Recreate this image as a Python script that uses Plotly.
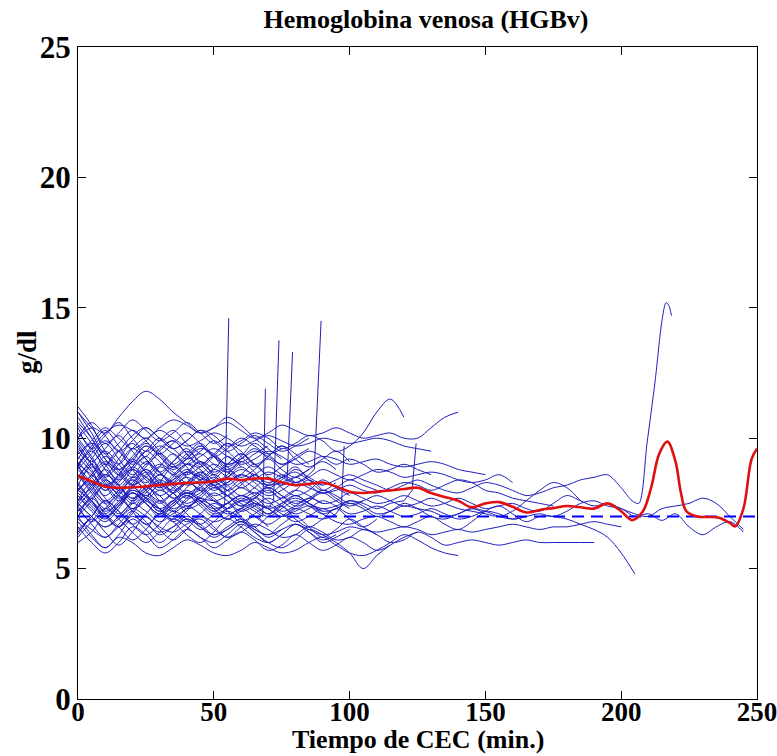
import plotly.graph_objects as go

STEP = 5  # minutes between samples

# ---- individual patient curves (g/dl, sampled every 5 min from t=0) ----
p01 = [9.5,8.8,8.0,8.6,9.2,8.7,8.1,8.5,9.0,8.8,8.3,8.6,9.1,8.7,8.2,8.5,8.9,8.4,8.0,8.3]
p02 = [10.2,9.6,9.0,9.5,10.1,10.4,10.0,9.6,9.9,10.3,10.1,9.7,9.9,10.2,10.0,9.6,9.8,10.1,9.9,9.5,9.7,10.2,11.0,11.5,10.8]
p03 = [9.0,9.6,10.2,10.5,10.3,10.0,10.4,10.7,10.5,10.2,10.4,10.6,10.3,10.0,10.2,10.5,10.3,10.1,10.2,10.4,10.2,10.0,10.1,10.2,10.0,10.0,10.4,10.8,11.0]
p04 = [10.0,10.4,10.2,10.8,11.4,11.8,11.5,11.0,10.6,10.2,10.4,10.8,10.5,10.0,9.6,9.2]
p05 = [11.2,10.5,9.5,9.0,9.6,10.0,9.5,9.0,9.4,9.8,9.3,8.8,9.2,9.6,9.2]
p06 = [6.0,6.4,7.0,6.6,6.1,6.5,7.1,6.8,6.3,6.0,6.4,6.9,6.6,6.2,6.0,6.3,6.7,6.4,6.0,6.2,6.5]
p07 = [7.0,6.3,5.8,6.2,6.0,5.6,5.5,5.8,6.1,5.9,5.6,5.5,5.7,6.0,5.8,5.6,5.7,6.0,6.2,5.9,5.6,5.5,5.7,6.0,6.3,6.1,5.8,5.6,5.5]
p08 = [7.5,7.0,6.6,6.9,7.3,7.0,6.6,6.4,6.7,6.9,6.5,6.2,6.4,6.7,6.5,6.2,6.3,6.6,6.4,6.1,6.2,6.5,6.3,6.0,6.1,6.4,6.2,5.9,6.0,6.1,6.0,5.9,6.0,6.1,6.0,6.0,6.0,6.0,6.0]
p09 = [8.0,7.6,7.2,7.5,7.9,7.6,7.3,7.0,7.3,7.6,7.4,7.1,7.3,7.5,7.3,7.0,7.2,7.4,7.1,6.8,6.7,6.9,7.0,6.8,6.6,6.8,7.0,6.7,6.5,6.8,7.2,7.4,7.1,6.8,7.0,7.0,6.9,6.7,6.5,6.2,5.6,4.8]
p10_t = [0,5,10,15,20,25,30,35,40,45,50,55,60,65,70,75,80,85,90,95,100,105,110,115,120,125,130,135,140,145,150,155,160,165,170,175,180,185,190,195,200,204,206.5,209.5,212.5,215,216.5,217.5,218.5]
p10_v = [9.0,8.6,8.2,8.5,8.8,8.5,8.2,8.4,8.7,8.5,8.3,8.5,8.8,8.6,8.3,8.5,8.7,8.4,8.2,8.4,8.6,8.4,8.2,8.0,8.2,8.4,8.2,8.0,7.9,8.1,8.3,8.2,8.0,7.8,7.9,8.1,8.2,8.4,8.5,8.6,8.1,7.6,7.5,9.8,12.2,14.5,15.2,15.1,14.7]
p11 = [8.6,8.0,7.5,7.9,8.4,8.0,7.6,7.9,8.3,8.0,7.6,7.8,8.1,7.8,7.5,7.7,8.0,7.8,7.5,7.6,7.9,7.7,7.5,7.6,7.8,7.6,7.4,7.5,7.7,7.5,7.3,7.4,7.5,7.3,7.2,7.5,7.8,7.6,7.4,7.5,7.3,7.1,7.0,7.3,7.4,7.5,7.7,7.5,7.0,6.5]
p12 = [7.2,7.7,8.2,7.8,7.3,7.6,8.0,7.7,7.3,7.5,7.9,7.6,7.2,7.4,7.7,7.4,7.1,7.3,7.6,7.4,7.1,7.2,7.4,7.2,7.0,7.1,7.3,7.1,6.9,7.0,7.2,7.1,6.9,7.0,7.1,7.0,7.2,7.5,7.6,7.4,7.3,7.0,7.1,6.85,7.1,6.6,6.3,6.6,6.8,6.4]
p13 = [8.5,9.2,9.8,9.2,8.6,9.0,9.6,9.9,9.4,8.9,9.3,9.8,9.5,9.0,9.3,9.7,9.4,9.0]
p14 = [7.8,7.2,6.8,7.3,7.9,7.5,7.0,7.4,7.8,7.4,7.0,7.3,7.7,7.4,7.1,7.5,7.8,7.5,7.2]
p15 = [10.5,9.8,9.0,8.4,8.9,9.5,9.1,8.6,9.0,9.4,9.0,8.7,9.1]
p16 = [8.0,8.6,9.3,8.8,8.2,7.8,8.3,8.9,8.5,8.0,8.4,8.8,8.3,7.9,8.2,8.6,8.3]
p17 = [7.2,7.8,8.4,8.0,7.5,7.9,8.3,7.9,7.4,7.7,8.1,7.8,7.4,7.7,8.0,7.6,7.3,7.6,7.9,7.6,7.3]
p18 = [9.8,9.0,8.2,7.6,8.1,8.7,8.3,7.9,8.3,8.7,8.4,8.0,8.3,8.6]
p19 = [6.5,7.0,7.6,7.2,6.7,6.3,6.7,7.2,6.9,6.5,6.8,7.2,6.9,6.5,6.3,6.7,7.0,6.6,6.2,6.5,6.9,6.6,6.3]
p20 = [11.0,10.2,9.4,9.8,10.3,9.9,9.4,9.8,10.2,9.8,9.3,9.6,10.0,9.7,9.4,9.6]
p21 = [8.8,8.2,7.5,7.0,7.5,8.1,7.8,7.3,7.6,8.0,7.7,7.3,7.6,7.9,7.6,7.2,7.4,7.7,7.5]
p22 = [9.2,9.8,9.4,8.8,9.2,9.7,9.3,8.9,9.2,9.6,9.4,9.0,9.2,9.5,9.3,9.0,9.2,9.5,9.3,9.0,9.2,9.0,8.7,8.8,9.0,8.8,8.6]
p23 = [7.5,8.2,8.8,8.2,7.6,8.0,8.6,8.2,7.8,8.1,8.5,8.1]
p24 = [6.8,6.2,5.8,6.3,6.9,6.5,6.0,6.4,6.9,6.6,6.2,6.5,6.8,6.4,6.0,6.3,6.7,6.4,6.1,6.3]
p25 = [10.6,10.0,9.2,8.6,9.1,9.7,9.3,8.8,9.2,9.7,9.3,8.9,9.3,9.8,9.4,9.0,9.3,9.6]
p26 = [8.2,7.6,7.0,7.4,8.0,7.7,7.2,7.5,7.9,7.6,7.2,7.5,7.8,7.5,7.1,7.4,7.8,7.5,7.2,7.3,7.6,7.4,7.1,7.2,7.5,7.3,7.0,6.9,7.1,7.3,7.1]
p27 = [9.0,9.7,10.3,9.7,9.1,9.5,10.0,9.6,9.2,9.5,9.9,9.5,9.1,9.4,9.7]
p28 = [7.4,8.0,8.6,8.2,7.7,8.1,8.6,8.3,7.9,8.2,8.6,8.2,7.8,8.1,8.5,8.1,7.8,8.0,8.4,8.1,7.8]
p29 = [8.6,7.9,7.3,7.8,8.4,8.0,7.5,7.9,8.3,8.0]
p30 = [6.2,6.8,7.3,6.9,6.4,6.0,6.4,6.9,6.6,6.2,6.0,6.3,6.7,6.4,6.0,5.8,6.1,6.5,6.3,6.0,5.6,5.0,5.5,5.9,6.2,6.4]
p31 = [9.6,9.0,8.5,9.0,9.6,9.2,8.7,9.1,9.5,9.1,8.7,9.0,9.4,9.0,8.6,8.9,9.2]
p32 = [8.4,9.0,9.5,9.0,8.5,8.9,9.4,9.0,8.6,8.9,9.3,8.9,8.5,8.8,9.2,8.8,8.5,8.8,9.1,8.8]
p33 = [7.9,7.4,7.0,7.4,7.9,7.5,7.1,7.4,7.8,7.5,7.1,7.3,7.6,7.3,7.0,7.3,7.6,7.4,7.1,7.3,7.5,7.3,7.0,7.2,7.4,7.3,7.2,7.0,7.1,7.3,7.2,7.0,6.9,7.0]
p34 = [10.8,10.0,9.2,8.8,9.3,9.8,9.4,8.9,9.3,9.7,9.3,9.0,9.2]
p35 = [7.0,7.6,8.2,7.8,7.3,7.7,8.2,7.9,7.5,7.8,8.2,7.8,7.4,7.7,8.1,7.8,7.4,7.6,8.0,7.7,7.4,7.6]
p36 = [9.3,8.7,8.1,8.6,9.1,8.7,8.2,8.6,9.0,8.6,8.2,8.5,8.9,8.5,8.1,8.4,8.8,8.5,8.2]
p37 = [6.6,6.0,5.6,6.0,6.6,6.3,5.8,6.1,6.5,6.2,5.8,6.1,6.4,6.1,5.7,5.9,6.3,6.0,5.7,5.9,6.2,6.0,5.7,5.9]
p38 = [8.0,8.5,9.0,8.6,8.2,8.6,9.0,8.7,8.3,8.6,9.0,8.7,8.4,8.6,8.9,8.6,8.3,8.5,8.8,8.6,8.4,8.6,8.8,8.7,8.5,8.6,8.7,8.6,8.4,8.3,8.4,8.6,8.3]
p39 = [8.8,9.4,9.9,9.5,9.0,9.3,9.7,9.4,9.0,9.3,9.6,9.3,9.0,9.2,9.5,9.3,9.0,9.1,9.3,9.2,9.0,9.1,9.2,9.0,8.9,9.0,9.1,9.0,8.8,8.7,8.6]
p40 = [8.6,8.1,7.6,8.0,8.5,8.2,7.8,8.1,8.5,8.2,7.8,8.0,8.4,8.1,7.8,8.0,8.3,8.1,7.9,8.0,8.2,8.0,7.9,8.1,8.3,8.2,8.0,8.2,8.4,8.3,8.0,7.9,7.7,7.6,7.5,7.4]
p41 = [7.6,8.1,8.6,8.2,7.7,8.0,8.4,8.1,7.7,7.9,8.3,8.0,7.6,7.8,8.1,7.8,7.5,7.7,8.0,7.8,7.5,7.6,7.8,7.6,7.4,7.5,7.7,7.5,7.3,7.2,7.1,7.0,7.2,7.6,8.0,8.3,8.1,7.6]
p42 = [6.9,6.5,6.2,6.6,7.0,6.7,6.4,6.6,6.9,6.6,6.3,6.5,6.8,6.5,6.3,6.5,6.7,6.5,6.3,6.4,6.6,6.5,6.4,6.5,6.6,6.5,6.3,6.4,6.5,6.4,6.5,6.6,6.7,6.6,6.5,6.6,6.6,6.7,6.8,6.7,6.6]
p43 = [9.9,9.2,8.5,8.0,8.5,9.1,8.7,8.3,8.7,9.1,8.8]
p44 = [7.3,6.7,6.2,6.7,7.2,6.8,6.3,6.6,7.0,6.7,6.3,6.6,6.9,6.6,6.2,6.5]
p45 = [10.0,10.6,10.1,9.5,9.9,10.4,10.0,9.6,9.9,10.3,9.9,9.5,9.8,10.1,9.8,9.5,9.7,10.0]
p46 = [8.3,7.6,7.0,6.6,7.1,7.7,7.3,6.9,7.3,7.7,7.3,6.9,7.2,7.5]
p47 = [8.9,8.3,7.8,8.3,8.8,8.4,8.0,8.3,8.7,8.4,8.0,8.3,8.6,8.3,7.9,8.2,8.5,8.2,7.9,8.1,8.4,8.2,8.0]
p48 = [6.4,7.0,7.6,7.2,6.7,7.1,7.6,7.2,6.8,7.1,7.5,7.2,6.8,7.1,7.4,7.1,6.8,7.0,7.3,7.0]
p49 = [11.0,10.4,9.8,10.2,10.7,10.3,9.9,10.2,10.6,10.2,9.8,10.1]
p50 = [9.4,9.9,10.4,10.0,9.6,9.9,10.3,10.0,9.7,9.9,10.2,10.0,9.7,9.9,10.1,9.9,9.7,9.8,10.0,9.9,9.8,9.9,10.0,9.9,9.7,9.6,9.5]
q01 = [9.0,8.2,8.9,9.5,8.8,8.3,8.9,9.4,8.9,8.4,8.8,9.3,8.9]
q02 = [7.0,7.7,7.1,6.6,7.2,7.8,7.3,6.8,7.2,7.7,7.3,6.9,7.3,7.7,7.3,7.0,7.3]
q03 = [10.4,9.6,10.1,10.6,10.0,9.5,9.9,10.3,9.8,9.4]
q04 = [8.2,8.9,8.3,7.7,8.2,8.8,8.2,7.7,8.1,8.7,8.2,7.8,8.2,8.6,8.1,7.7,8.0,8.4,8.0]
q05 = [6.3,6.9,6.4,5.9,6.4,7.0,6.5,6.1,6.5,7.0,6.6,6.2,6.6,7.0,6.6]
q06 = [9.7,9.1,9.6,10.1,9.5,9.0,9.5,9.9,9.4,9.0,9.4,9.8,9.3,8.9,9.3,9.7,9.2,8.9,9.2,9.5,9.1]
q07 = [7.6,8.3,7.7,7.1,7.6,8.2,7.6,7.2,7.7,8.1,7.6,7.3]
q08 = [8.9,9.5,8.8,8.2,8.8,9.3,8.7,8.2,8.6,9.1,8.6,8.2,8.6,9.0,8.5,8.2,8.5,8.8]
q09 = [7.4,6.8,7.3,7.8,7.2,6.7,7.1,7.6,7.1,6.7,7.1,7.5,7.0,6.6,7.0,7.4,6.9,6.6,6.9,7.3,6.9,6.6,6.9]
q10 = [10.0,9.3,8.6,9.2,9.8,9.2,8.6,9.1,9.6,9.0,8.6,9.0,9.4,9.0]

# ---- curves that end with an abrupt jump (body every 5 min, then jump points) ----
sp1 = [8.2,7.6,7.0,7.5,8.1,7.7,7.2,7.6,8.0,7.7,7.6]
sp1_jump_t = [50, 54, 55.5]
sp1_jump_v = [7.6, 7.4, 14.6]
sp2 = [8.5,9.0,8.4,7.9,8.3,8.8,8.4,8.0,8.3,8.6,8.2,7.8,7.5,7.2]
sp2_jump_t = [65, 68, 69]
sp2_jump_v = [7.2, 7.0, 11.9]
sp3 = [7.8,7.3,6.9,7.4,7.9,7.5,7.1,7.5,7.9,7.6,7.2,7.5,7.8,7.5,7.3]
sp3_jump_t = [70, 72, 74]
sp3_jump_v = [7.3, 7.6, 13.75]
sp4 = [9.1,8.5,8.0,8.4,8.9,8.5,8.1,8.4,8.8,8.5,8.1,8.3,8.6,8.4,8.2,8.3]
sp4_jump_t = [75, 77, 79]
sp4_jump_v = [8.3, 8.4, 13.3]
sp5 = [8.0,8.6,9.1,8.7,8.2,8.5,8.9,8.6,8.2,8.4,8.8,8.5,8.1,8.4,8.7,8.5,8.3,8.6]
sp5_jump_t = [85, 87, 89.5]
sp5_jump_v = [8.6, 8.8, 14.5]
sp6 = [7.5,7.0,6.6,7.0,7.5,7.2,6.8,7.1,7.4,7.1,6.8,7.0,7.3,7.0,6.7,7.0,7.3,7.1,6.9,7.1]
sp6_jump_t = [95, 97, 98]
sp6_jump_v = [7.1, 7.4, 9.7]
sp7 = [8.1,7.5,7.1,7.6,8.0,7.7,7.3,7.6,7.9,7.6,7.3,7.5,7.8,7.6,7.3,7.5,7.7,7.5,7.3,7.4,7.6,7.5,7.3,7.5,7.6]
sp7_jump_t = [120, 123, 124.5]
sp7_jump_v = [7.6, 8.0, 9.8]

# ---- mean curve and reference level ----
mean_t = [0,5,10,15,20,25,30,35,40,45,50,55,60,65,70,75,80,85,90,95,100,105,110,115,120,125,130,135,140,145,150,155,160,165,170,175,180,185,190,195,200,204,208,211,214,217,220,222,224,228,232,236,240,242,245,248,250]
mean_v = [8.55,8.35,8.15,8.1,8.12,8.15,8.2,8.25,8.28,8.3,8.35,8.45,8.4,8.45,8.45,8.3,8.2,8.25,8.3,8.15,7.95,7.9,7.95,8.0,8.05,8.1,7.9,7.75,7.6,7.35,7.5,7.55,7.37,7.15,7.25,7.32,7.4,7.35,7.3,7.5,7.2,6.86,7.2,8.1,9.4,9.87,9.1,7.9,7.2,7.0,6.98,6.95,6.75,6.62,7.3,9.2,9.6]
ref_t = [0, 250]
ref_v = [7, 7]

x_ticks = [0, 50, 100, 150, 200, 250]
y_ticks = [0, 5, 10, 15, 20, 25]

BLUE = "rgb(30,30,190)"
fig = go.Figure()

series = [p01,p02,p03,p04,p05,p06,p07,p08,p09,p11,p12,p13,p14,p15,p16,p17,p18,p19,p20,
          p21,p22,p23,p24,p25,p26,p27,p28,p29,p30,p31,p32,p33,p34,p35,p36,p37,p38,p39,p40,
          p41,p42,p43,p44,p45,p46,p47,p48,p49,p50,q01,q02,q03,q04,q05,q06,q07,q08,q09,q10,
          sp1,sp2,sp3,sp4,sp5,sp6,sp7]
for s in series:
    fig.add_trace(go.Scatter(x=[STEP * i for i in range(len(s))], y=s, mode="lines",
                             line=dict(color=BLUE, width=1, shape="spline", smoothing=1.0),
                             hoverinfo="skip", showlegend=False))
fig.add_trace(go.Scatter(x=p10_t, y=p10_v, mode="lines",
                         line=dict(color=BLUE, width=1, shape="spline", smoothing=0.8),
                         hoverinfo="skip", showlegend=False))
for jt, jv in [(sp1_jump_t, sp1_jump_v), (sp2_jump_t, sp2_jump_v), (sp3_jump_t, sp3_jump_v),
               (sp4_jump_t, sp4_jump_v), (sp5_jump_t, sp5_jump_v), (sp6_jump_t, sp6_jump_v),
               (sp7_jump_t, sp7_jump_v)]:
    fig.add_trace(go.Scatter(x=jt, y=jv, mode="lines", line=dict(color=BLUE, width=1),
                             hoverinfo="skip", showlegend=False))

fig.add_trace(go.Scatter(x=ref_t, y=ref_v, mode="lines",
                         line=dict(color="#0000ff", width=2, dash="12px,7px"),
                         hoverinfo="skip", showlegend=False))
fig.add_trace(go.Scatter(x=mean_t, y=mean_v, mode="lines",
                         line=dict(color="#e01010", width=2.6, shape="spline", smoothing=1.0),
                         hoverinfo="skip", showlegend=False))

FONT = "Liberation Serif"
PLOT_L, PLOT_R, PLOT_T, PLOT_B = 78, 757, 47, 699
fig.update_layout(
    width=777, height=756,
    margin=dict(l=PLOT_L, r=777 - PLOT_R, t=PLOT_T, b=756 - PLOT_B),
    paper_bgcolor="white", plot_bgcolor="white",
    title=dict(text="Hemoglobina venosa (HGBv)", xref="paper",
               x=(426 - PLOT_L) / (PLOT_R - PLOT_L), xanchor="center",
               y=1 - 19 / 756, yanchor="middle", yref="container",
               font=dict(family=FONT, size=26, color="black", weight="bold")),
    showlegend=False,
)
fig.add_annotation(text="Tiempo de CEC (min.)", xref="paper", yref="paper",
                   x=0.5, y=-(756 - 1 - PLOT_B) / (PLOT_B - PLOT_T), xanchor="center",
                   yanchor="bottom", showarrow=False, borderpad=0,
                   font=dict(family=FONT, size=26, color="black", weight="bold"))
fig.add_annotation(text="g/dl", xref="paper", yref="paper", textangle=-90,
                   x=-(PLOT_L - 27) / (PLOT_R - PLOT_L), y=(PLOT_B - 352) / (PLOT_B - PLOT_T),
                   xanchor="center", yanchor="middle", showarrow=False,
                   font=dict(family=FONT, size=27, color="black", weight="bold"))
fig.update_xaxes(range=[0, 250], tickvals=x_ticks, ticks="inside", ticklen=8, tickcolor="black",
                 showline=True, linecolor="black", linewidth=1, mirror="ticks", showgrid=False,
                 zeroline=False, automargin=False, ticklabeloverflow="allow",
                 ticklabelstandoff=-11,
                 tickfont=dict(family=FONT, size=27, color="black", weight="bold"))
fig.update_yaxes(range=[0, 25], tickvals=y_ticks, ticks="inside", ticklen=8, tickcolor="black",
                 showline=True, linecolor="black", linewidth=1, mirror="ticks", showgrid=False,
                 zeroline=False, automargin=False, ticklabeloverflow="allow",
                 tickfont=dict(family=FONT, size=31, color="black", weight="bold"))

fig.write_html("out.html")
